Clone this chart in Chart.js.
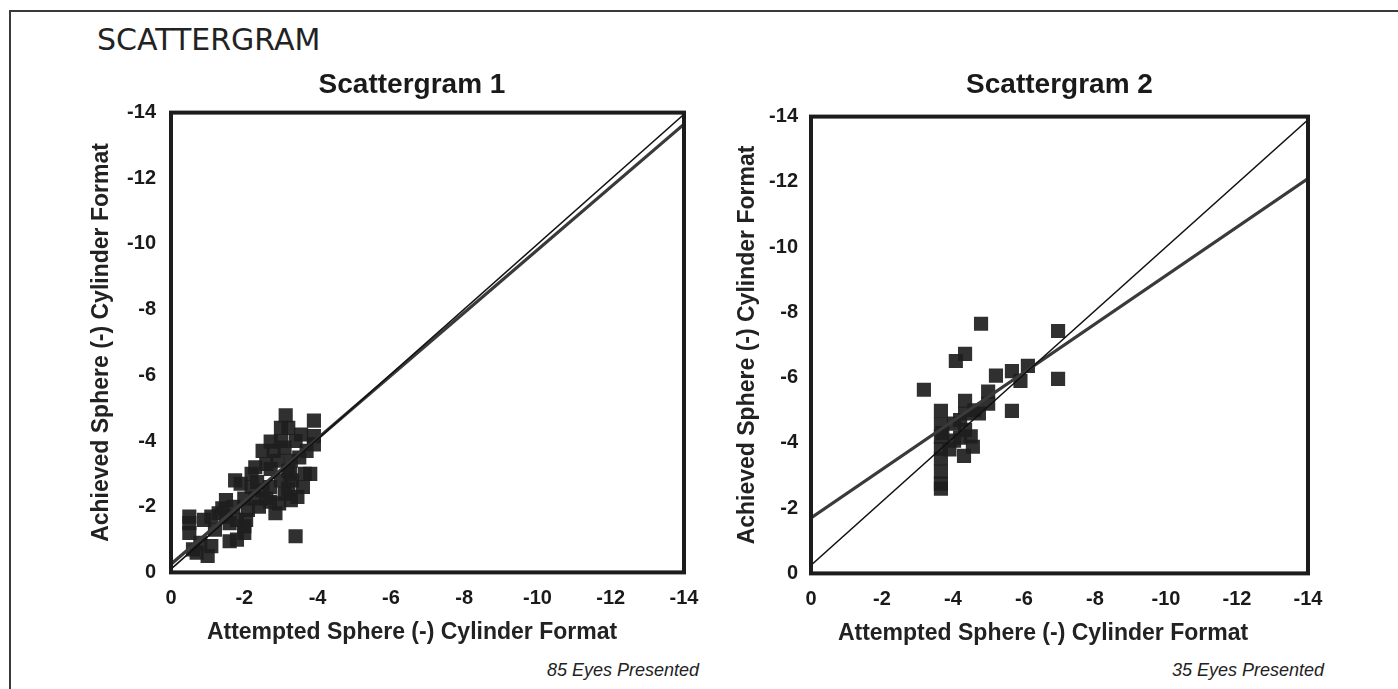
<!DOCTYPE html>
<html>
<head>
<meta charset="utf-8">
<script src="https://cdn.jsdelivr.net/npm/chart.js@4"></script>
<style>
  html, body { margin: 0; padding: 0; background: #fff; }
  body { width: 1398px; height: 689px; position: relative; overflow: hidden; }
  #frame { position: absolute; left: 9px; top: 10px; width: 1400px; height: 700px;
           border-top: 2px solid #3a3a3a; border-left: 2px solid #3a3a3a; }
  #heading { position: absolute; left: 97px; top: 25px; font: 30px "DejaVu Sans", sans-serif;
             line-height: 1; color: #222; }
  .note { position: absolute; top: 661px; font: italic 18px "Liberation Sans", Arial, sans-serif;
          line-height: 1; color: #222; white-space: nowrap; }
  .box { position: absolute; }
</style>
</head>
<body>
<div id="frame"></div>
<div id="heading">SCATTERGRAM</div>
<div class="box" style="left:80px;top:62px;width:664px;height:588px;"><canvas id="chart1"></canvas></div>
<div class="box" style="left:720px;top:66px;width:646px;height:585px;"><canvas id="chart2"></canvas></div>
<div class="note" style="right:699px;">85 Eyes Presented</div>
<div class="note" style="right:74px;">35 Eyes Presented</div>
<script>
// valores (dioptrias)
const tickVals = [0, -2, -4, -6, -8, -10, -12, -14];
const fitX = [0, -14];

// Scattergram 1
const att1 = [-0.5, -0.5, -0.5, -0.6, -0.7, -1.0, -1.1, -0.9, -1.1, -1.3, -1.4, -1.6, -1.6, -1.8,
  -2.0, -2.0, -1.7, -1.5, -1.75, -1.9, -2.0, -2.3, -2.2, -2.3, -2.35, -2.5, -2.6, -2.7, -2.7, -2.72,
  -2.72, -2.85, -2.95, -3.0, -3.1, -3.13, -3.2, -3.2, -3.2, -3.25, -3.27, -3.27, -3.4, -3.45, -3.55,
  -3.6, -3.65, -3.7, -3.8, -3.9, -3.9, -3.9, -2.05, -1.8, -2.4, -2.5, -2.1, -2.9, -3.0, -3.5, -1.2,
  -0.8, -2.6, -3.4, -3.0, -1.5, -2.2, -3.3, -3.1, -2.8];
const ach1 = [-1.2, -1.5, -1.7, -0.7, -0.6, -0.5, -0.8, -1.6, -1.7, -1.8, -1.95, -1.5, -0.95, -1.0,
  -1.2, -1.4, -2.0, -2.2, -2.8, -2.7, -2.25, -2.25, -3.0, -3.2, -2.75, -3.7, -2.25, -2.6, -2.15, -3.15,
  -3.98, -1.8, -2.1, -4.0, -3.8, -4.78, -4.4, -3.1, -2.55, -3.0, -3.4, -2.2, -1.1, -2.3, -4.2,
  -2.6, -3.0, -3.7, -3.0, -4.62, -4.15, -3.9, -1.6, -1.6, -2.0, -2.5, -1.9, -3.4, -2.8, -3.5, -1.3,
  -0.9, -3.3, -4.0, -4.4, -1.7, -2.6, -2.8, -2.4, -3.7];
const fitA1 = [-0.1, -13.95];
const fitB1 = [-0.25, -13.65];

// Scattergram 2
const att2 = [-4.79, -6.96, -4.34, -4.08, -3.18, -5.21, -5.66, -6.11, -6.96, -5.66, -4.99, -4.99,
  -4.34, -4.34, -4.73, -3.66, -3.66, -3.66, -3.66, -3.66, -3.66, -3.66, -4.03, -4.03, -4.34, -4.56,
  -4.31, -4.2, -3.9, -3.7, -4.2, -5.9, -4.6, -4.5, -3.66];
const ach2 = [-7.65, -7.43, -6.73, -6.51, -5.63, -6.06, -6.2, -6.36, -5.96, -4.98, -5.57, -5.2,
  -5.29, -4.9, -4.9, -4.98, -4.56, -4.19, -3.82, -3.52, -3.12, -2.75, -4.59, -4.07, -4.4, -3.88,
  -3.6, -4.16, -3.8, -4.3, -4.7, -5.9, -5.0, -4.2, -2.6];
const fitA2 = [-0.25, -13.9];
const fitB2 = [-1.7, -12.1];

const pts = (xs, ys) => xs.map((x, i) => ({ x: x, y: ys[i] }));

// marco grueso alrededor del area de trazado
const plotFrame = {
  id: 'plotFrame',
  afterDraw(chart) {
    const a = chart.chartArea, ctx = chart.ctx;
    ctx.save();
    ctx.strokeStyle = '#1c1c1c';
    ctx.lineWidth = 4;
    ctx.strokeRect(a.left, a.top, a.right - a.left, a.bottom - a.top);
    ctx.restore();
  }
};

function makeChart(id, cfg) {
  const tickFont = { family: '"Liberation Sans", Arial, sans-serif', size: 20, weight: 'bold' };
  const titleFont = { family: '"Liberation Sans", Arial, sans-serif', size: 23, weight: 'bold' };
  return new Chart(document.getElementById(id), {
    type: 'scatter',
    data: {
      datasets: [
        {
          data: pts(fitX, cfg.fitA), type: 'line', showLine: true, pointRadius: 0,
          borderColor: '#111', borderWidth: 1.5, order: 1
        },
        {
          data: pts(fitX, cfg.fitB), type: 'line', showLine: true, pointRadius: 0,
          borderColor: '#3a3a3a', borderWidth: 3.2, order: 2
        },
        {
          data: pts(cfg.att, cfg.ach), pointStyle: 'rect', pointRadius: 10,
          backgroundColor: 'rgba(30,30,30,0.92)', borderWidth: 0, order: 3
        }
      ]
    },
    options: {
      responsive: true,
      maintainAspectRatio: false,
      animation: false,
      layout: { padding: 0 },
      plugins: {
        legend: { display: false },
        tooltip: { enabled: false },
        title: {
          display: true, text: cfg.title, color: '#1a1a1a', fullSize: cfg.titleFull,
          font: { family: '"Liberation Sans", Arial, sans-serif', size: 28, weight: 'bold' },
          padding: { top: cfg.titlePadTop, bottom: cfg.titlePadBottom }
        },
        subtitle: {
          display: true, position: 'bottom', text: 'Attempted Sphere (-) Cylinder Format',
          color: '#222', font: titleFont, padding: { top: 1, bottom: 4 }
        }
      },
      scales: {
        x: {
          type: 'linear', min: -14, max: 0, reverse: true,
          grid: { display: false }, border: { display: false },
          ticks: { color: '#1a1a1a', font: tickFont, padding: 6 },
          afterBuildTicks: s => { s.ticks = tickVals.map(v => ({ value: v })); },
          afterFit: s => { s.height = 45; s.paddingRight = cfg.padRight; }
        },
        y: {
          type: 'linear', min: -14, max: 0, reverse: true,
          grid: { display: false }, border: { display: false },
          ticks: { color: '#1a1a1a', font: tickFont, padding: cfg.yTickPad },
          afterBuildTicks: s => { s.ticks = tickVals.map(v => ({ value: v })); },
          title: {
            display: true, text: 'Achieved Sphere (-) Cylinder Format', color: '#222',
            font: titleFont, padding: { top: cfg.yTitlePad, bottom: 0 }
          },
          afterFit: s => { s.width = 91; }
        }
      }
    },
    plugins: [plotFrame]
  });
}

makeChart('chart1', {
  title: 'Scattergram 1', titleFull: true, titlePadTop: 6, titlePadBottom: 11,
  att: att1, ach: ach1, fitA: fitA1, fitB: fitB1, padRight: 60, yTitlePad: 8, yTickPad: 7
});
makeChart('chart2', {
  title: 'Scattergram 2', titleFull: false, titlePadTop: 2, titlePadBottom: 15,
  att: att2, ach: ach2, fitA: fitA2, fitB: fitB2, padRight: 58, yTitlePad: 14, yTickPad: 5
});
</script>
</body>
</html>
